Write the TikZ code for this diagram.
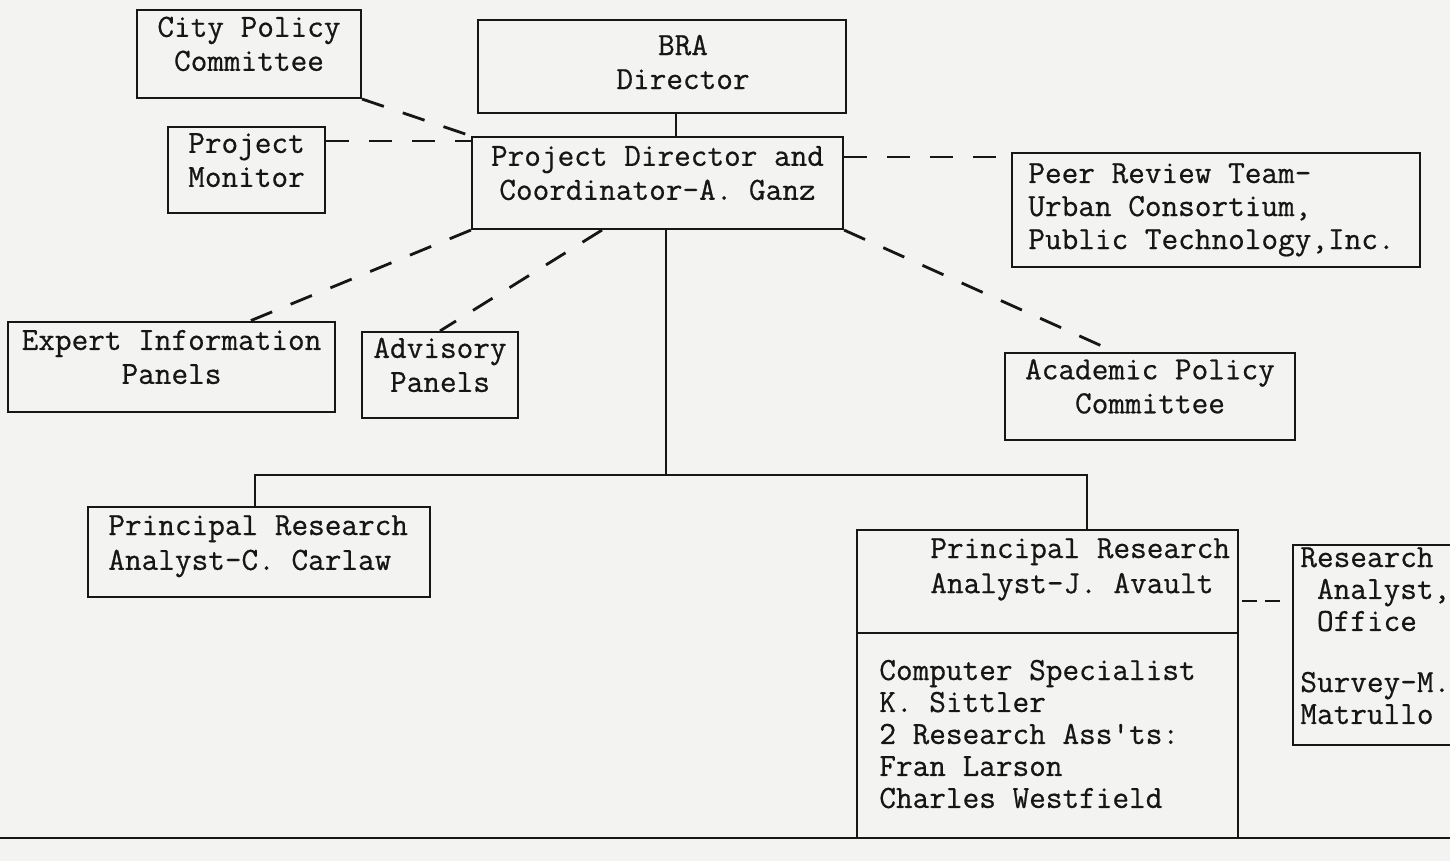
\documentclass[tikz,border=0pt]{standalone}
\usepackage{fontspec}
\usetikzlibrary{fit}
\newfontfamily\typew{lmmono12-regular.otf}[FakeBold=0.6]
\definecolor{paper}{RGB}{243,243,242}
\definecolor{ink}{RGB}{22,22,22}
\newcommand\diagfont{\typew\fontsize{18.4}{19.35}\selectfont}
\newcommand\mylines[2]{{\fontsize{18.4}{#1}\selectfont\begin{tabular}[t]{@{}l@{}}#2\end{tabular}}}
\tikzset{
  box/.style={draw=ink, line width=1.2pt, inner sep=0pt, align=center, text=ink, font=\diagfont},
  txt/.style={inner sep=0pt, text=ink, font=\diagfont, anchor=base west},
  dashlink/.style={draw=ink, line width=1.6pt, dash pattern=on 0.46cm off 0.4cm},
  solidlink/.style={draw=ink, line width=1.1pt},
}
\begin{document}
\begin{tikzpicture}[x=0.02cm,y=-0.02cm]
\useasboundingbox (0,0) rectangle (1450,861);
\fill[paper] (0,0) rectangle (1450,861);
\clip (0,0) rectangle (1450,861);

% boxes
\node[box, fit={(137,10) (361,98)}] (city) {City Policy\\Committee};
\node[box, fit={(478,20) (846,113)}] (bra) {};
\node[txt, anchor=center, align=center] (bratext) at (683,62) {BRA\\Director};
\node[box, fit={(168,127) (325,213)}] (monitor) {Project\\Monitor};
\node[box, fit={(472,137) (843,229)}] (ganz) {Project Director and\\Coordinator-A. Ganz};
\node[box, fit={(1012,153) (1420,267)}] (peer) {};
\node[txt] (peertext) at (1028,183) {\mylines{18.8pt}{Peer Review Team-\\Urban Consortium,\\Public Technology,Inc.}};
\node[box, fit={(8,322) (335,412)}] (expert) {Expert Information\\Panels};
\node[box, fit={(362,332) (518,418)}] (advisory) {Advisory\\Panels};
\node[box, fit={(1005,353) (1295,440)}] (academic) {Academic Policy\\Committee};
\node[box, fit={(88,507) (430,597)}] (carlaw) {};
\node[txt] (carlawtext) at (108,535) {\mylines{19.85pt}{Principal Research\\Analyst-C. Carlaw}};
\node[box, fit={(857,530) (1238,633)}] (avault) {};
\node[txt] (avaulttext) at (930,558) {\mylines{20pt}{Principal Research\\Analyst-J. Avault}};
\node[box, fit={(857,633) (1238,838)}] (staff) {};
\node[txt] (stafftext) at (879,680) {\mylines{18.2pt}{Computer Specialist\\K. Sittler\\2 Research Ass'ts:\\Fran Larson\\Charles Westfield}};
\node[box, fit={(1293,545) (1480,745)}] (research) {};
\node[txt] (researchtext) at (1300,567) {\mylines{18.2pt}{Research\\\ Analyst,\\\ Office}};
\node[txt] (surveytext) at (1300,692) {\mylines{18.2pt}{Survey-M.\\Matrullo}};

% helper coordinates
\coordinate (trunkx) at (676,0);
\coordinate (my) at (0,141);
\coordinate (py) at (0,157);
\coordinate (ex) at (250,0);
\coordinate (adx) at (602,0);
\coordinate (acx) at (1115,0);
\coordinate (bar) at (0,475);
\coordinate (lx) at (255,0);
\coordinate (rx) at (1087,0);
\coordinate (tx) at (666,0);
\coordinate (ry) at (0,601);

% connectors
\draw[solidlink] (bra.south -| trunkx) -- (ganz.north -| trunkx);
\draw[dashlink] (city.south east) -- (ganz.north west);
\draw[dashlink] (monitor.east |- my) -- (ganz.west |- my);
\draw[dashlink] (ganz.east |- py) -- (peer.west |- py);
\draw[dashlink] (ganz.south west) -- (expert.north -| ex);
\draw[dashlink] (ganz.south -| adx) -- (advisory.north);
\draw[dashlink] (ganz.south east) -- (academic.north -| acx);
\draw[solidlink] (ganz.south -| tx) -- (tx |- bar);
\draw[solidlink] (carlaw.north -| lx) -- (lx |- bar) -- (rx |- bar) -- (avault.north -| rx);
\draw[dashlink, dash pattern=on 0.3cm off 0.16cm, shorten <=0.06cm, shorten >=0.16cm] (avault.east |- ry) -- (research.west |- ry);

% page rule
\draw[ink, line width=1.4pt] (0,838) -- (1450,838);
\end{tikzpicture}
\end{document}
